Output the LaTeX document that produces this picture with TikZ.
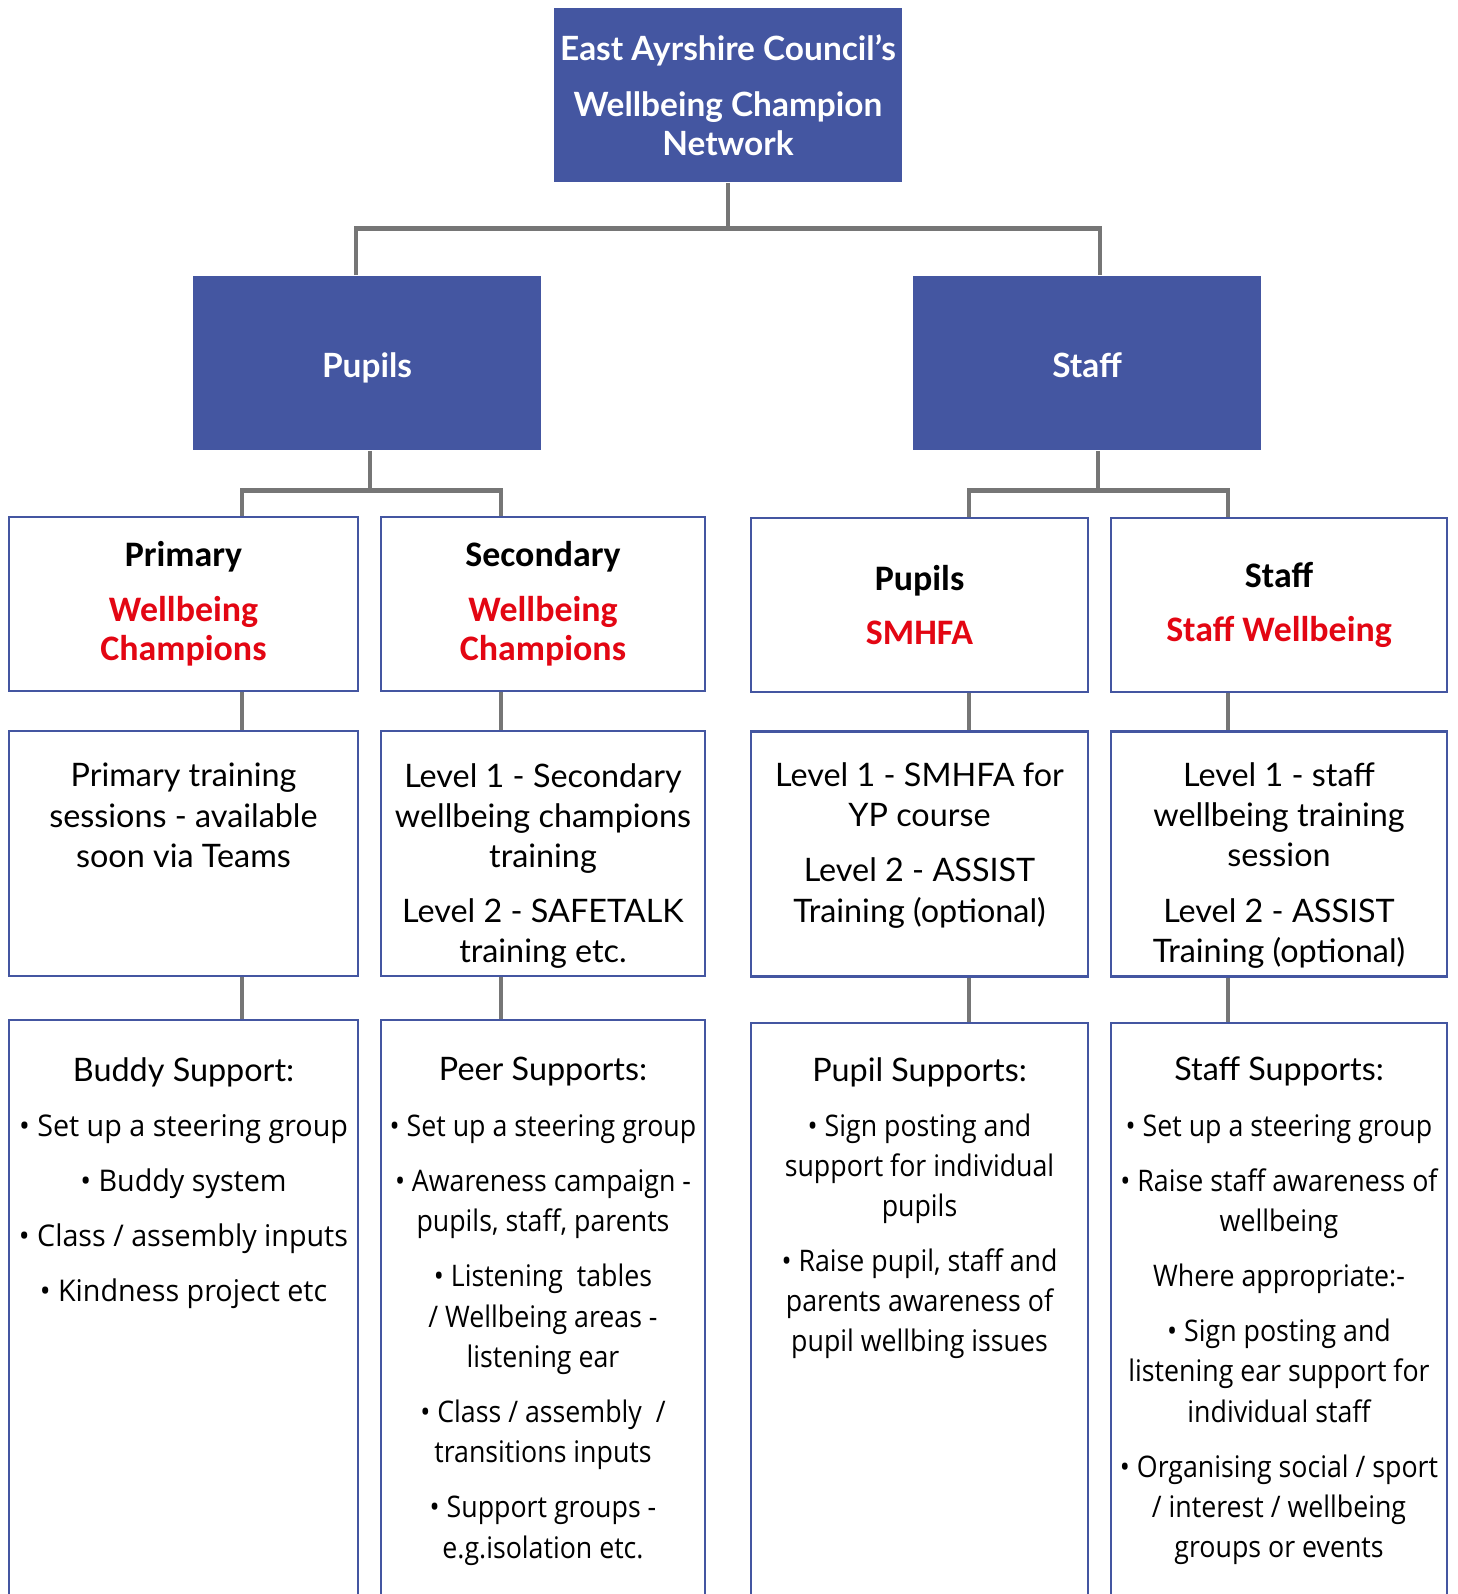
\documentclass[tikz,border=0pt]{standalone}
\usepackage{fontspec}
\setmainfont{Lato}
\newfontfamily\hdrfont{Carlito}
\newfontfamily\suppfont[FakeStretch=0.9]{Open Sans}
\newfontfamily\buddyfont[FakeStretch=0.96]{Open Sans}
\usetikzlibrary{positioning,calc}

\definecolor{ecblue}{RGB}{68,86,161}
\definecolor{ecred}{RGB}{227,6,19}
\definecolor{linkgrey}{RGB}{118,118,118}

\tikzset{
  bluebox/.style={fill=ecblue, draw=none, text=white, align=center, inner sep=0pt,
    minimum width=3.48cm, minimum height=1.74cm, font=\bfseries\fontsize{9.5}{11.1}\selectfont},
  headbox/.style={draw=ecblue, line width=0.75pt, fill=white, inner sep=0pt, align=center,
    minimum height=1.74cm, font=\hdrfont\bfseries\fontsize{10.2}{11.1}\selectfont},
  trainbox/.style={draw=ecblue, line width=0.75pt, inner sep=0pt, minimum height=2.45cm},
  suppbox/.style={draw=ecblue, line width=0.75pt, inner sep=0pt, minimum height=6.2cm},
  traintxt/.style={inner sep=0pt, align=center, font=\fontsize{9.2}{11.4}\selectfont},
  supptxt/.style={inner sep=0pt, align=center, font=\suppfont\fontsize{8.45}{11.4}\selectfont},
}
\tikzset{link/.style={draw=linkgrey, line width=1.35pt}}
\newcommand{\supphd}[1]{{\rmfamily\fontsize{9.2}{11.4}\selectfont #1}}

\begin{document}
\begin{tikzpicture}[x=0.01cm, y=-0.01cm]
    \path[use as bounding box] (0,0) rectangle (1457,1594);
    \clip (0,0) rectangle (1457,1594);

    % Network and the two groups
    \node[bluebox] (net) at (728,95) {East Ayrshire Council’s\\[4.8pt]Wellbeing Champion\\Network};
    \node[bluebox, text height=8.5pt, text depth=0pt] (pup) at (367,363) {Pupils};
    \node[bluebox, text height=8.2pt, text depth=0pt] (stf) at (1087,363) {Staff};

    % Champion headings
    \node[headbox, minimum width=3.49cm] (prim) at (183.5,604)
        {Primary\\[4.5pt]\textcolor{ecred}{Wellbeing}\\\textcolor{ecred}{Champions}};
    \node[headbox, minimum width=3.24cm] (sec) at (543,604)
        {Secondary\\[4.5pt]\textcolor{ecred}{Wellbeing}\\\textcolor{ecred}{Champions}};
    \node[headbox, minimum width=3.37cm] (smh) at (919.5,605)
        {Pupils\\[4.5pt]\textcolor{ecred}{SMHFA}};
    \node[headbox, minimum width=3.36cm] (swb) at (1279,605)
        {Staff\\[4.5pt]\textcolor{ecred}{Staff Wellbeing}};

    % Training
    \node[trainbox, minimum width=3.49cm] (primtr) at (183.5,853.5) {};
    \node[trainbox, minimum width=3.24cm] (sectr) at (543,853.5) {};
    \node[trainbox, minimum width=3.37cm] (smhtr) at (919.5,854) {};
    \node[trainbox, minimum width=3.36cm] (swbtr) at (1279,854) {};

    \node[traintxt, below=0.33cm of primtr.north] (primtr-txt)
        {Primary training\\sessions - available\\soon via Teams};
    \node[traintxt, below=0.33cm of sectr.north] (sectr-txt)
        {Level 1 - Secondary\\wellbeing champions\\training\\[4.3pt]Level 2 - SAFETALK\\training etc.};
    \node[traintxt, below=0.32cm of smhtr.north] (smhtr-txt)
        {Level 1 - SMHFA for\\YP course\\[4.3pt]Level 2 - ASSIST\\Training (optional)};
    \node[traintxt, below=0.32cm of swbtr.north] (swbtr-txt)
        {Level 1 - staff\\wellbeing training\\session\\[4.3pt]Level 2 - ASSIST\\Training (optional)};

    % Supports
    \node[suppbox, minimum width=3.49cm] (primsu) at (183.5,1330) {};
    \node[suppbox, minimum width=3.24cm] (secsu) at (543,1330) {};
    \node[suppbox, minimum width=3.37cm, minimum height=6.17cm] (smhsu) at (919.5,1331.5) {};
    \node[suppbox, minimum width=3.36cm, minimum height=6.17cm] (swbsu) at (1279,1331.5) {};

    \node[supptxt, font=\buddyfont\fontsize{8.5}{11.4}\selectfont, below=0.38cm of primsu.north] (primsu-txt)
        {\supphd{Buddy Support:}\\[4.3pt]• Set up a steering group\\[4.3pt]• Buddy system\\[4.3pt]%
         • Class / assembly inputs\\[4.3pt]• Kindness project etc};
    \node[supptxt, below=0.38cm of secsu.north] (secsu-txt)
        {\supphd{Peer Supports:}\\[4.35pt]• Set up a steering group\\[4.35pt]%
         • Awareness campaign -\\pupils, staff, parents\\[4.35pt]• Listening\ \ tables\\/ Wellbeing areas -\\%
         listening ear\\[4.35pt]• Class / assembly\ \ /\\transitions inputs\\[4.35pt]• Support groups -\\e.g.isolation etc.};
    \node[supptxt, below=0.35cm of smhsu.north] (smhsu-txt)
        {\supphd{Pupil Supports:}\\[4.3pt]• Sign posting and\\support for individual\\pupils\\[4.3pt]%
         • Raise pupil, staff and\\parents awareness of\\pupil wellbing issues};
    \node[supptxt, below=0.35cm of swbsu.north] (swbsu-txt)
        {\supphd{Staff Supports:}\\[4.3pt]• Set up a steering group\\[4.3pt]%
         • Raise staff awareness of\\wellbeing\\[4.3pt]Where appropriate:-\\[4.3pt]• Sign posting and\\%
         listening ear support for\\individual staff\\[4.3pt]• Organising social / sport\\/ interest / wellbeing\\groups or events};

    % Connectors
    \draw[link] (net.south) -- ++(0,46) coordinate (netj);
    \draw[link] ($(pup.north)+(-11,0)$) |- (netj) -| ($(stf.north)+(13,0)$);

    \draw[link] ($(pup.south)+(3,0)$) -- ++(0,40) coordinate (pupj);
    \draw[link] ($(prim.north)+(58.5,0)$) |- (pupj) -| ($(sec.north)+(-42,0)$);

    \draw[link] ($(stf.south)+(11,0)$) -- ++(0,40) coordinate (stfj);
    \draw[link] ($(smh.north)+(49.5,0)$) |- (stfj) -| ($(swb.north)+(-51,0)$);

    \foreach \a/\b/\dx in {prim/primtr/58.5, primtr/primsu/58.5, sec/sectr/-42, sectr/secsu/-42,
                           smh/smhtr/49.5, smhtr/smhsu/49.5, swb/swbtr/-51, swbtr/swbsu/-51}
        \draw[link] ($(\a.south)+(\dx,0)$) -- ($(\b.north)+(\dx,0)$);
\end{tikzpicture}
\end{document}
